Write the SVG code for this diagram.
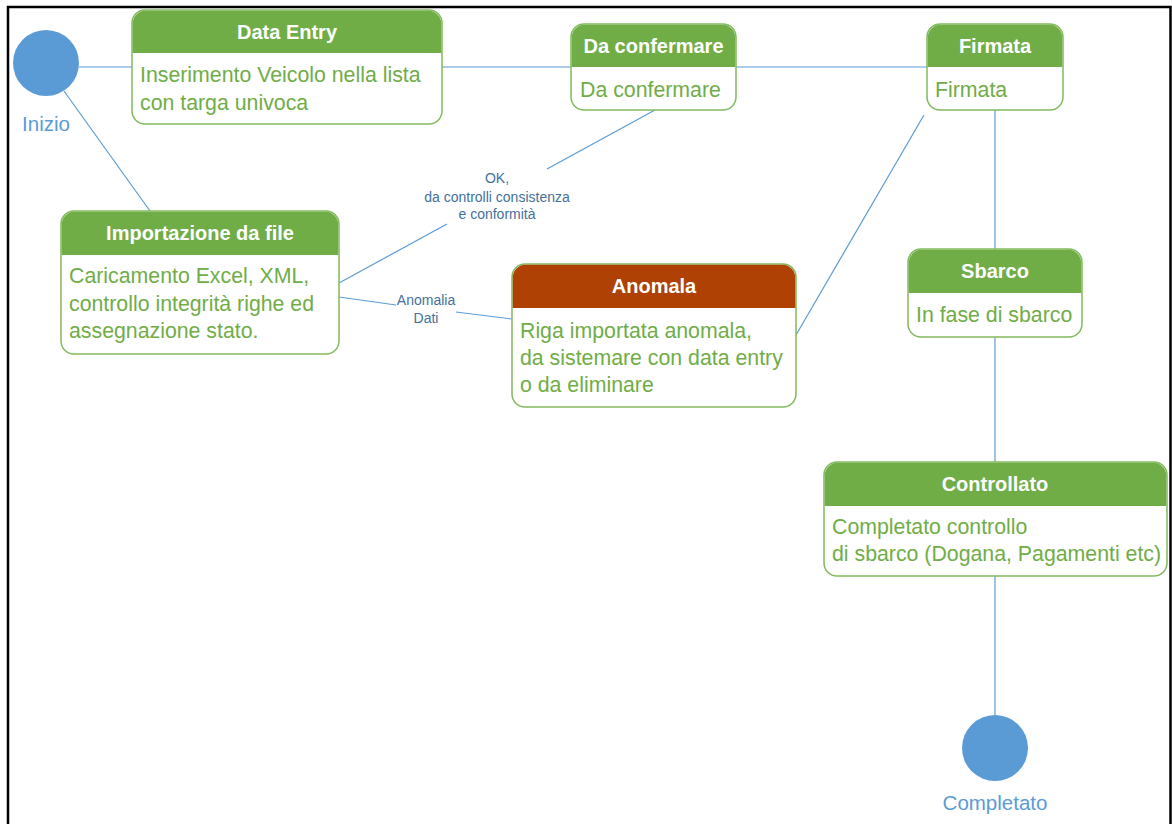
<svg xmlns="http://www.w3.org/2000/svg" width="1172" height="824" viewBox="0 0 1172 824">
<style>
.box{fill:#fff;stroke:#82BA5E;stroke-width:1.5}
.hd{fill:#70AD47}
.hdr{fill:#AE4103}
.ht{font-family:"Liberation Sans",Arial,sans-serif;font-weight:bold;font-size:20px;fill:#fff;text-anchor:middle}
.bt{font-family:"Liberation Sans",Arial,sans-serif;font-size:21.3px;fill:#70AD47}
.ln{stroke:#5B9BD5;stroke-width:1.2;fill:none}
.lb{font-family:"Liberation Sans",Arial,sans-serif;font-size:14px;fill:#44719C;text-anchor:middle}
.cl{fill:#5B9BD5}
.ct{font-family:"Liberation Sans",Arial,sans-serif;font-size:20.5px;fill:#5B9BD5;text-anchor:middle}
</style>
<rect x="0" y="0" width="1172" height="824" fill="#fff"/>
<rect x="8" y="7" width="1162.5" height="830" fill="none" stroke="#000" stroke-width="2.5"/>
<g id="connectors">
<line class="ln" x1="79" y1="67" x2="132" y2="67"/>
<line class="ln" x1="442" y1="67" x2="571" y2="67"/>
<line class="ln" x1="736" y1="67" x2="927" y2="67"/>
<line class="ln" x1="64" y1="91" x2="150" y2="211"/>
<line class="ln" x1="339" y1="283" x2="447" y2="224"/>
<line class="ln" x1="547" y1="169" x2="655" y2="110"/>
<text class="lb" x="497" y="183">OK,</text>
<text class="lb" x="497" y="202">da controlli consistenza</text>
<text class="lb" x="497" y="219">e conformità</text>
<line class="ln" x1="339" y1="297" x2="396" y2="305"/>
<line class="ln" x1="456" y1="312" x2="512" y2="319"/>
<text class="lb" x="426" y="305">Anomalia</text>
<text class="lb" x="426" y="323">Dati</text>
<line class="ln" x1="796" y1="335" x2="924" y2="115"/>
<line class="ln" x1="995" y1="110" x2="995" y2="249"/>
<line class="ln" x1="995" y1="337" x2="995" y2="462"/>
<line class="ln" x1="995" y1="576" x2="995" y2="715"/>
</g>
<g id="inizio">
<circle class="cl" cx="46" cy="63" r="33"/>
<text class="ct" x="46" y="131">Inizio</text>
</g>
<g id="data-entry">
<rect class="box" x="132" y="10" width="310" height="114" rx="13"/>
<path class="hd" d="M132.75 53 V23 A13 13 0 0 1 145 10.75 H429 A13 13 0 0 1 441.25 23 V53 Z"/>
<text class="ht" x="287" y="39">Data Entry</text>
<text class="bt" x="140" y="82">Inserimento Veicolo nella lista</text>
<text class="bt" x="140" y="110">con targa univoca</text>
</g>
<g id="da-confermare">
<rect class="box" x="571" y="24" width="165" height="86" rx="13"/>
<path class="hd" d="M571.75 67 V37 A13 13 0 0 1 584 24.75 H723 A13 13 0 0 1 735.25 37 V67 Z"/>
<text class="ht" x="653.5" y="53">Da confermare</text>
<text class="bt" x="580" y="97">Da confermare</text>
</g>
<g id="firmata">
<rect class="box" x="927" y="24" width="136" height="86" rx="13"/>
<path class="hd" d="M927.75 67 V37 A13 13 0 0 1 940 24.75 H1050 A13 13 0 0 1 1062.25 37 V67 Z"/>
<text class="ht" x="995" y="53">Firmata</text>
<text class="bt" x="935" y="97">Firmata</text>
</g>
<g id="importazione">
<rect class="box" x="61" y="211" width="278" height="143" rx="13"/>
<path class="hd" d="M61.75 255 V224 A13 13 0 0 1 74 211.75 H326 A13 13 0 0 1 338.25 224 V255 Z"/>
<text class="ht" x="200" y="240">Importazione da file</text>
<text class="bt" x="69" y="283">Caricamento Excel, XML,</text>
<text class="bt" x="69" y="311">controllo integrità righe ed</text>
<text class="bt" x="69" y="338">assegnazione stato.</text>
</g>
<g id="anomala">
<rect class="box" x="512" y="264" width="284" height="143" rx="13"/>
<path class="hdr" d="M512.75 308 V277 A13 13 0 0 1 525 264.75 H783 A13 13 0 0 1 795.25 277 V308 Z"/>
<text class="ht" x="654" y="293">Anomala</text>
<text class="bt" x="520" y="338">Riga importata anomala,</text>
<text class="bt" x="520" y="365">da sistemare con data entry</text>
<text class="bt" x="520" y="392">o da eliminare</text>
</g>
<g id="sbarco">
<rect class="box" x="908" y="249" width="174" height="88" rx="13"/>
<path class="hd" d="M908.75 293 V262 A13 13 0 0 1 921 249.75 H1069 A13 13 0 0 1 1081.25 262 V293 Z"/>
<text class="ht" x="995" y="278">Sbarco</text>
<text class="bt" x="916" y="322">In fase di sbarco</text>
</g>
<g id="controllato">
<rect class="box" x="824" y="462" width="343" height="114" rx="13"/>
<path class="hd" d="M824.75 506 V475 A13 13 0 0 1 837 462.75 H1154 A13 13 0 0 1 1166.25 475 V506 Z"/>
<text class="ht" x="995" y="491">Controllato</text>
<text class="bt" x="832" y="534">Completato controllo</text>
<text class="bt" x="832" y="561">di sbarco (Dogana, Pagamenti etc)</text>
</g>
<g id="completato">
<circle class="cl" cx="995" cy="748" r="33"/>
<text class="ct" x="995" y="810">Completato</text>
</g>
</svg>
